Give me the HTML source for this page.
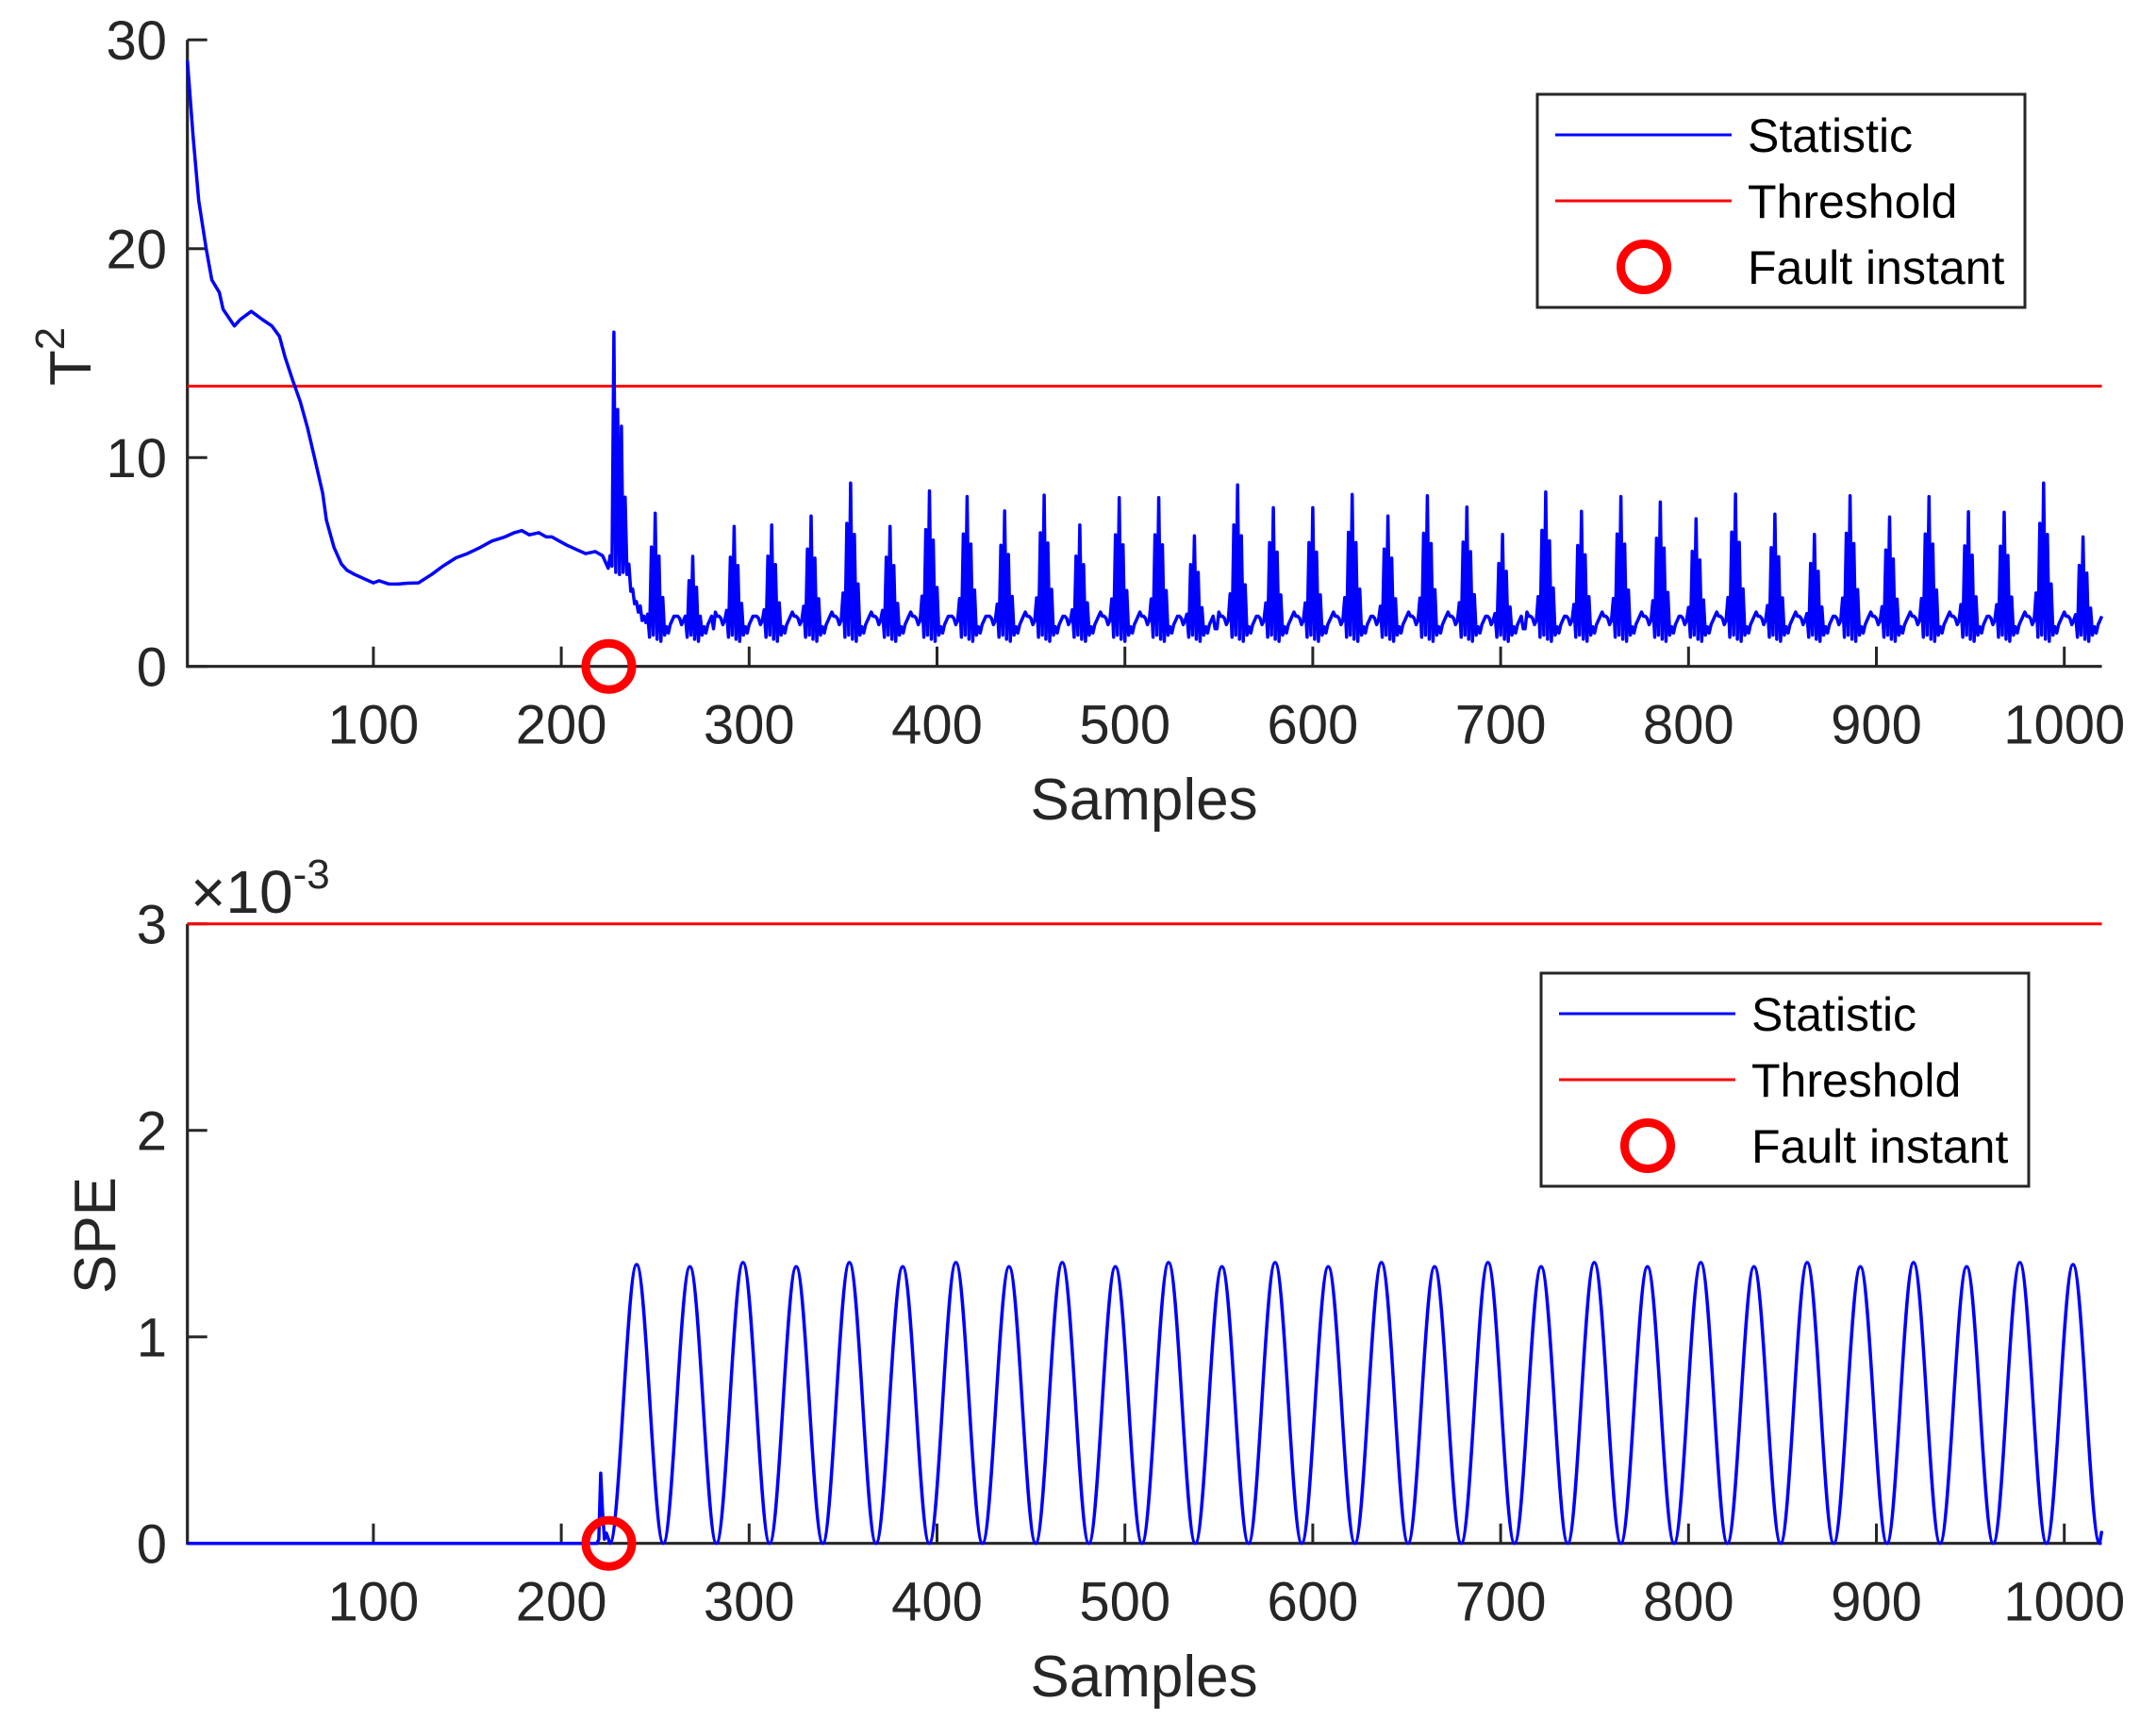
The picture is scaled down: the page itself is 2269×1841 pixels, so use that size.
<!DOCTYPE html>
<html><head><meta charset="utf-8"><style>
html,body{margin:0;padding:0;background:#fff}
svg text{font-family:"Liberation Sans",Arial,sans-serif}
</style></head><body>
<svg id="fig" width="2269" height="1836" viewBox="0 0 2269 1836" xmlns="http://www.w3.org/2000/svg">
<rect width="2269" height="1836" fill="#fff"/>
<g id="topPanel"></g>
<g id="botPanel"></g>
</svg>
<script>
// ---- data ----
const xTicks = [100,200,300,400,500,600,700,800,900,1000];
const t2YTicks = [0,10,20,30];
const speYTicks = [0,1,2,3];
const t2Threshold = 13.42;
const speThreshold = 3.0; // x1e-3
const faultSample = 225.3;
const t2EarlySamples = [1,4,7,11,14,18,20,26,29,35,41,46,50,53,57,61,65,69,73,75,79,83,86,90,95,100,103,108,113,118,124,131,137,144,150,157,163,170,175,179,183,188,192,195,199,203,208,213,218,222,225,226,227];
const t2EarlyValues  = [29.0,25.4,22.3,20.0,18.5,17.9,17.1,16.3,16.6,17.0,16.6,16.3,15.8,14.8,13.7,12.7,11.4,9.85,8.3,7.0,5.7,4.9,4.6,4.4,4.2,4.0,4.1,3.95,3.94,3.98,4.0,4.4,4.8,5.2,5.4,5.7,6.0,6.2,6.4,6.5,6.3,6.4,6.2,6.2,6.0,5.8,5.6,5.4,5.5,5.3,4.7,5.3,4.8];
const t2FaultSamples = [228,229,230,231,232,233,234,235,236,237,238,239,240,241,242,243,244,245,246];
const t2FaultValues  = [16.0,4.5,12.3,4.4,11.5,4.5,8.1,4.4,4.9,3.6,3.7,3.0,3.1,2.6,2.9,2.2,2.4,2.1,2.5];
const t2PeakSamples = [249.5,270.3,291.5,312.4,333.3,354.4,375.3,396.4,415.5,436.4,457.1,476.1,497.3,518,537.2,560,578.9,600.3,621,639.9,661.3,682,701.2,724.2,743.1,763.9,784.9,804,825,846,867,886.1,907.3,928.3,949.3,968,989.2,1010.2];
const t2PeakValues  = [7.33,5.27,6.7,6.77,7.2,8.78,6.7,8.4,8.13,7.44,8.2,6.77,8.08,8.08,6.25,8.69,7.6,7.6,8.23,7.2,8.17,7.63,6.32,8.35,7.42,8.13,7.87,7.07,8.25,7.29,6.32,8.17,7.15,8.13,7.4,7.38,8.78,6.2];
const t2ClusterBase = [2.6,2.4,2.4,2.3,2.0,2.2,1.8,1.4,1.9,1.5,1.7,1.3,1.8,1.2,1.7,1.5,1.9,1.6,2.0,2.2,2.4];
const t2SpikeFrac = [0.40,0,0.78,0,1,0,0.72,0,0.45];
const speFlatSamples = [1,219,220,221,222,223,224,225.9];
const speFlatValues  = [0,0,0.02,0.34,0.15,0.02,0.05,0];
const speMinSamples = [225.9,254.3,282.6,310.9,339.2,367.5,395.9,424.2,452.5,480.8,509.1,537.5,565.8,594.1,622.4,650.7,679,707.4,735.7,764,792.3,820.7,849,877.3,905.6,933.9,962.2,990.5,1018.8];
const spePeakValues = [1.35,1.34,1.36,1.34,1.36,1.34,1.36,1.34,1.36,1.34,1.36,1.34,1.36,1.34,1.36,1.34,1.36,1.34,1.36,1.34,1.36,1.34,1.36,1.34,1.36,1.34,1.36,1.35];
const speEndValue = 0.06;

// ---- geometry ----
const X0=198.7, PXS=1.992, XMAX=1020;
const sx = s => X0 + (s-1)*PXS;
const T2Y0=706.7, T2K=22.15;
const ty = v => T2Y0 - v*T2K;
const SY0=1636.7, SK=219;
const py = v => SY0 - v*SK;
const NS="http://www.w3.org/2000/svg";
function mk(parent, tag, attrs, text){
  const e=document.createElementNS(NS,tag);
  for(const k in attrs) e.setAttribute(k, attrs[k]);
  if(text!==undefined) e.textContent=text;
  parent.appendChild(e); return e;
}
const gTop=document.getElementById('topPanel'), gBot=document.getElementById('botPanel');
const AX='#262626';

function axes(g, y0, yTop, yTicksArr, yfun, name){
  xTicks.forEach(t=>{
    const l=mk(g,'line',{x1:sx(t),x2:sx(t),y1:y0,y2:y0-21,stroke:AX,'stroke-width':3});
    
    
    const tx=mk(g,'text',{x:sx(t),y:y0+82,'font-size':58,'text-anchor':'middle',fill:AX},String(t));
    
    
  });
  yTicksArr.forEach(t=>{
    const y=yfun(t);
    const l=mk(g,'line',{x1:X0,x2:X0+21,y1:y,y2:y,stroke:AX,'stroke-width':3});
    
    
    const tx=mk(g,'text',{x:177,y:y+21,'font-size':58,'text-anchor':'end',fill:AX},String(t));
    
    
  });
  const xa=mk(g,'line',{x1:X0,x2:sx(XMAX),y1:y0,y2:y0,stroke:AX,'stroke-width':3.2});
  
  
  const ya=mk(g,'line',{x1:X0,x2:X0,y1:yTop,y2:y0+1.5,stroke:AX,'stroke-width':3.2});
  
  
}

// ---- TOP PANEL ----
axes(gTop, T2Y0, ty(30), t2YTicks, ty, 't2');
{
  const pts=[];
  t2EarlySamples.forEach((s,i)=>pts.push([s,t2EarlyValues[i]]));
  t2FaultSamples.forEach((s,i)=>pts.push([s,t2FaultValues[i]]));
  for(let s=247;s<=XMAX;s++){
    let best=0,bd=1e9;
    t2PeakSamples.forEach((p,i)=>{const d=Math.abs(s-Math.round(p)); if(d<bd){bd=d;best=i;}});
    const off=s-Math.round(t2PeakSamples[best]);
    let v;
    if(Math.abs(off)<=4 && t2SpikeFrac[off+4]>0) v=Math.max(2.4, t2SpikeFrac[off+4]*t2PeakValues[best]);
    else if(Math.abs(off)<=10) v=t2ClusterBase[off+10];
    else v=1.8;
    pts.push([s,v]);
  }
  const d=pts.map((p,i)=>(i?'L':'M')+sx(p[0]).toFixed(1)+' '+ty(p[1]).toFixed(1)).join('');
  const th=mk(gTop,'line',{x1:X0,x2:sx(XMAX),y1:ty(t2Threshold),y2:ty(t2Threshold),stroke:'#ff0000','stroke-width':3});
  
  
  const ln=mk(gTop,'path',{d:d,fill:'none',stroke:'#0000ff','stroke-width':3.5,'stroke-linejoin':'round'});
  
  
  const c=mk(gTop,'circle',{cx:sx(faultSample),cy:ty(0),r:24.5,fill:'none',stroke:'#ff0000','stroke-width':9});
  
  
}
{
  const a=mk(gTop,'text',{x:1213,y:869,'font-size':62,'text-anchor':'middle',fill:AX},'Samples');
  
  
  const b=mk(gTop,'text',{transform:'translate(96,378) rotate(-90)','font-size':62,'text-anchor':'middle',fill:AX});
  
  
  b.innerHTML='T<tspan dy="-28" font-size="44">2</tspan>';
}

// ---- BOTTOM PANEL ----
axes(gBot, SY0, py(3), speYTicks, py, 'spe');
{
  let d='';
  speFlatSamples.forEach((s,i)=>{ d+=(i?'L':'M')+sx(s).toFixed(1)+' '+py(speFlatValues[i]).toFixed(1); });
  for(let i=0;i<spePeakValues.length;i++){
    const m0=speMinSamples[i], m1=speMinSamples[i+1], pk=(m0+m1)/2, h=(m1-m0)/2, P=spePeakValues[i];
    d+='C'+sx(m0+0.36*h).toFixed(1)+' '+py(0).toFixed(1)+' '+sx(pk-0.36*h).toFixed(1)+' '+py(P).toFixed(1)+' '+sx(pk).toFixed(1)+' '+py(P).toFixed(1);
    d+='C'+sx(pk+0.36*h).toFixed(1)+' '+py(P).toFixed(1)+' '+sx(m1-0.36*h).toFixed(1)+' '+py(0).toFixed(1)+' '+sx(m1).toFixed(1)+' '+py(0).toFixed(1);
  }
  d+='L'+sx(XMAX).toFixed(1)+' '+py(speEndValue).toFixed(1);
  const th=mk(gBot,'line',{x1:X0,x2:sx(XMAX),y1:py(speThreshold),y2:py(speThreshold),stroke:'#ff0000','stroke-width':3});
  
  
  const ln=mk(gBot,'path',{d:d,fill:'none',stroke:'#0000ff','stroke-width':3.5,'stroke-linejoin':'round'});
  
  
  const c=mk(gBot,'circle',{cx:sx(faultSample),cy:py(0),r:24.5,fill:'none',stroke:'#ff0000','stroke-width':9});
  
  
  const a=mk(gBot,'text',{x:1213,y:1799,'font-size':62,'text-anchor':'middle',fill:AX},'Samples');
  
  
  const b=mk(gBot,'text',{transform:'translate(122,1310) rotate(-90)','font-size':62,'text-anchor':'middle',fill:AX},'SPE');
  
  
  const e=mk(gBot,'text',{x:202,y:968,'font-size':64,fill:AX});
  
  
  e.innerHTML='×10<tspan dy="-26" font-size="44">-3</tspan>';
}

// ---- legends ----
function legend(g, x, y, name){
  const box=mk(g,'rect',{x:x,y:y,width:517,height:226,fill:'#fff',stroke:AX,'stroke-width':3});
  
  
  const rows=[['Statistic','line','#0000ff'],['Threshold','line','#ff0000'],['Fault instant','circle','#ff0000']];
  rows.forEach((r,i)=>{
    const cy=y+43+i*70;
    if(r[1]==='line'){
      const l=mk(g,'line',{x1:x+19,x2:x+206,y1:cy,y2:cy,stroke:r[2],'stroke-width':3});
      
      
    } else {
      const c=mk(g,'circle',{cx:x+113,cy:cy,r:24.5,fill:'none',stroke:r[2],'stroke-width':9});
      
      
    }
    const t=mk(g,'text',{x:x+223,y:cy+18,'font-size':50,fill:'#000'},r[0]);
    
    
  });
}
legend(gTop,1630,100,'t2-legend');
legend(gBot,1634,1032,'spe-legend');
</script>
</body></html>
